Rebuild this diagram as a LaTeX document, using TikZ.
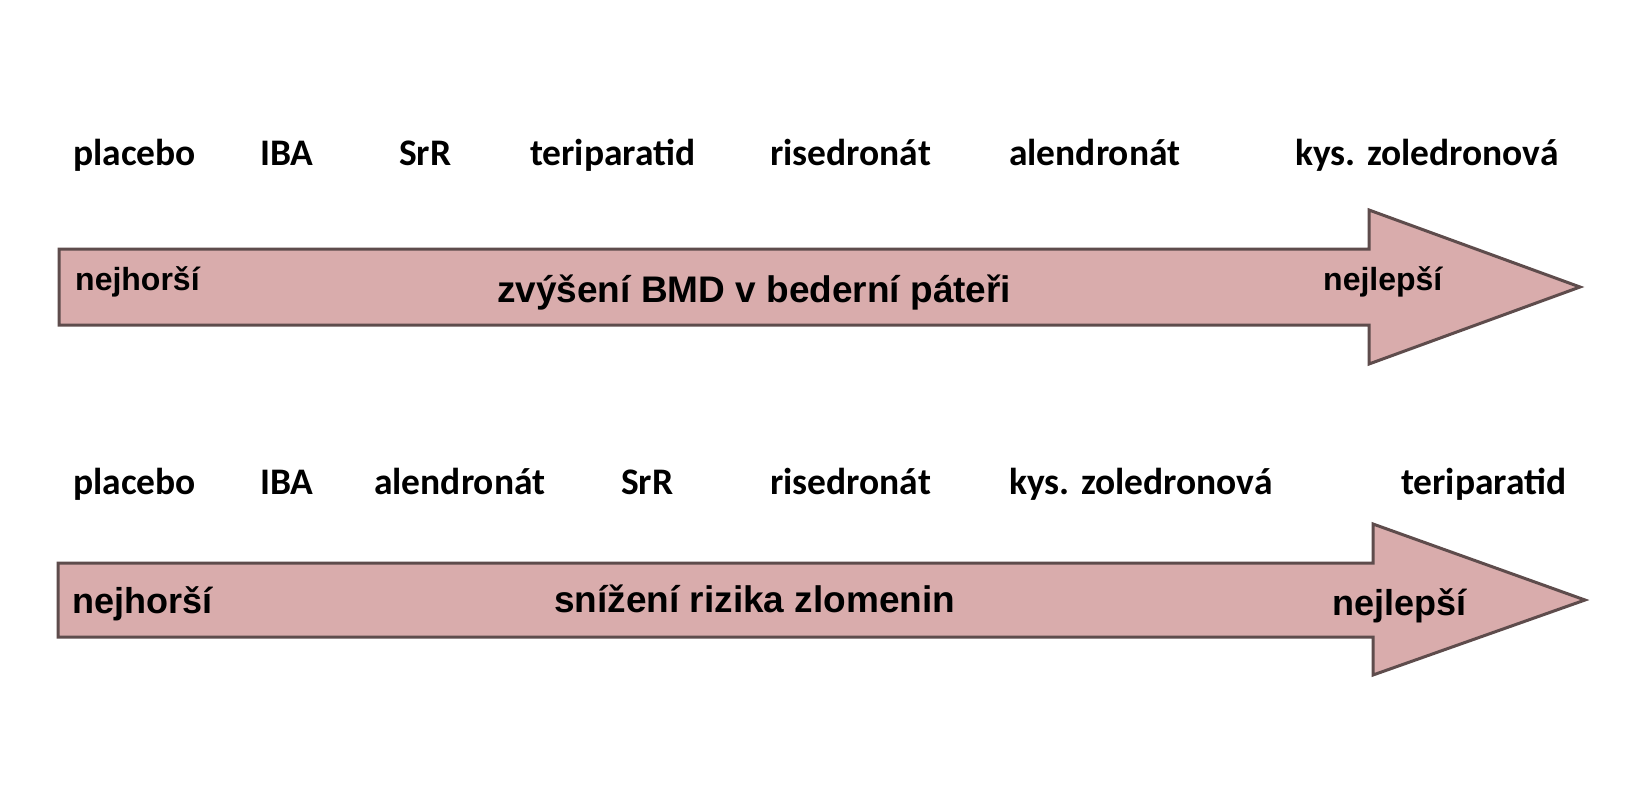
\documentclass[tikz,border=0pt]{standalone}
\usepackage{fontspec}
\setmainfont{Liberation Sans}
\newfontfamily\drugfont{Carlito}
\usepackage{xcolor}
\usepackage{tikz}
\definecolor{arrowfill}{HTML}{D9ACAC}
\definecolor{arrowline}{HTML}{5E4C4C}
\tikzset{
  bigarrow/.style={fill=arrowfill, draw=arrowline, line width=3pt, line join=miter},
  drug/.style={font=\drugfont\bfseries\fontsize{37.5}{37.5}\selectfont, anchor=base west, inner sep=0pt},
  endlab/.style={font=\bfseries\fontsize{32}{32}\selectfont, anchor=base west, inner sep=0pt},
  endlabbig/.style={font=\bfseries\fontsize{36}{36}\selectfont, anchor=base west, inner sep=0pt},
  axislab/.style={font=\bfseries\fontsize{37}{37}\selectfont, anchor=base west, inner sep=0pt},
}

\begin{document}
\begin{tikzpicture}[x=1pt, y=-1pt]
  \useasboundingbox[fill=white] (0,0) rectangle (1631,800);

  % upper arrow: BMD
  \draw[bigarrow] (59,249) -- (1369,249) -- (1369,210) -- (1580,287)
    -- (1369,364) -- (1369,325) -- (59,325) -- cycle;
  \node[endlab] (bmdworst) at (75,290) {nejhorší};
  \node[axislab] (bmdaxis) at (497,302) {zvýšení BMD v bederní páteři};
  \node[endlab] (bmdbest) at (1323,290) {nejlepší};

  \node[drug] (bmdplacebo) at (73,165) {placebo};
  \node[drug] (bmdiba) at (260,165) {IBA};
  \node[drug] (bmdsrr) at (399,165) {SrR};
  \node[drug] (bmdteri) at (530,165) {teriparatid};
  \node[drug] (bmdrise) at (770,165) {risedronát};
  \node[drug] (bmdalen) at (1009,165) {alendronát};
  \node[drug] (bmdzol) at (1295,165) {kys. zoledronová};

  % lower arrow: fractures
  \draw[bigarrow] (58,563) -- (1373,563) -- (1373,524) -- (1585,600)
    -- (1373,675) -- (1373,637) -- (58,637) -- cycle;
  \node[endlabbig] (frworst) at (72,613) {nejhorší};
  \node[axislab] (fraxis) at (554,612) {snížení rizika zlomenin};
  \node[endlabbig] (frbest) at (1332,615) {nejlepší};

  \node[drug] (frplacebo) at (73,494) {placebo};
  \node[drug] (friba) at (260,494) {IBA};
  \node[drug] (fralen) at (374,494) {alendronát};
  \node[drug] (frsrr) at (621,494) {SrR};
  \node[drug] (frrise) at (770,494) {risedronát};
  \node[drug] (frzol) at (1009,494) {kys. zoledronová};
  \node[drug] (frteri) at (1401,494) {teriparatid};
\end{tikzpicture}
\end{document}
